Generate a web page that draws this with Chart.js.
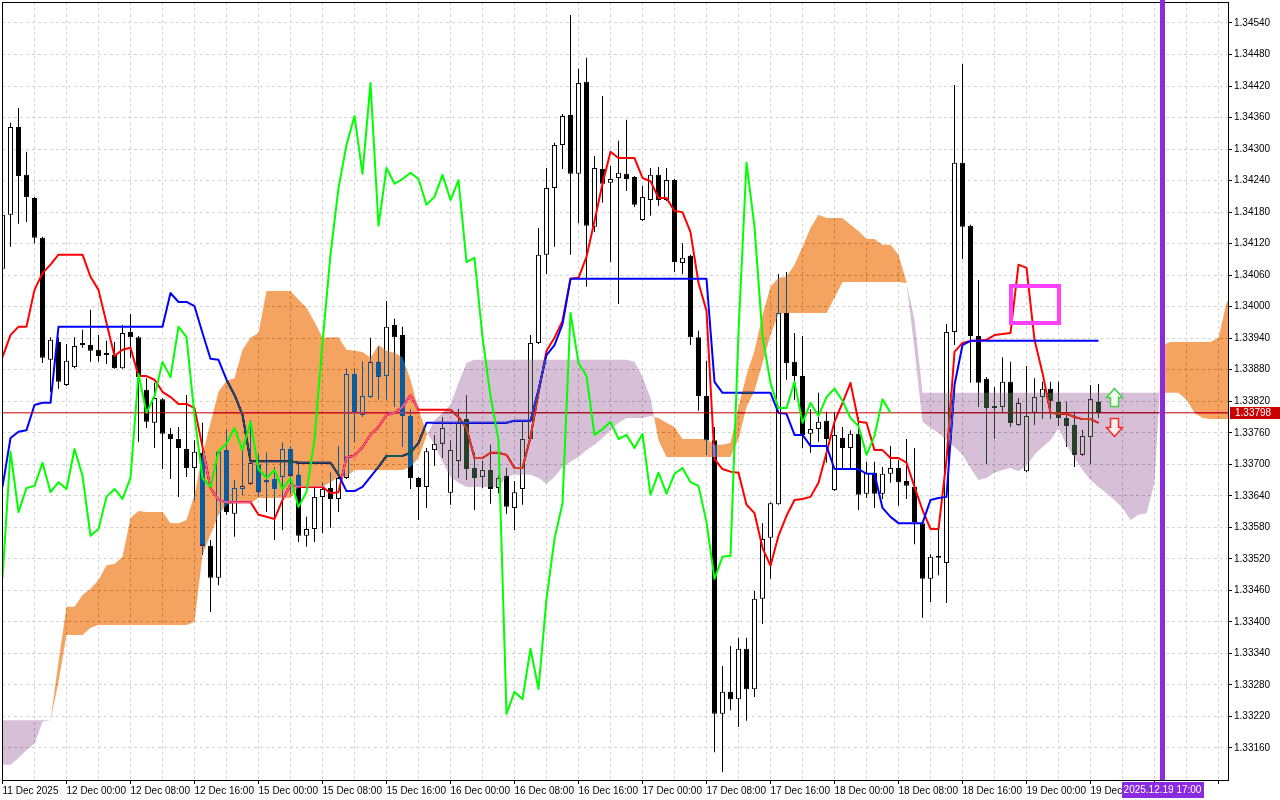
<!DOCTYPE html>
<html><head><meta charset="utf-8">
<script src="https://cdn.jsdelivr.net/npm/chart.js@4.4.1/dist/chart.umd.min.js"></script>
<style>html,body{margin:0;padding:0;background:#fff;overflow:hidden}canvas{display:block}</style>
</head><body>
<canvas id="c" width="1280" height="800"></canvas>
<script>
// ---- tick labels ----
const timeLabels = ['11 Dec 2025','12 Dec 00:00','12 Dec 08:00','12 Dec 16:00','15 Dec 00:00','15 Dec 08:00','15 Dec 16:00','16 Dec 00:00','16 Dec 08:00','16 Dec 16:00','17 Dec 00:00','17 Dec 08:00','17 Dec 16:00','18 Dec 00:00','18 Dec 08:00','18 Dec 16:00','19 Dec 00:00','19 Dec 08:00'];
const priceTicks = [1.34540,1.34480,1.34420,1.34360,1.34300,1.34240,1.34180,1.34120,1.34060,1.34000,1.33940,1.33880,1.33820,1.33760,1.33700,1.33640,1.33580,1.33520,1.33460,1.33400,1.33340,1.33280,1.33220,1.33160];

// ---- H1 candles (bar index 0 = 11 Dec 16:00) ----
const open = [1.34072,1.34175,1.34342,1.34251,1.34207,1.34131,1.33899,1.33933,1.33851,1.33885,
1.33927,1.33927,1.33918,1.33912,1.33908,1.33883,1.33952,1.33942,1.33842,1.33779,
1.33824,1.33758,1.33748,1.33729,1.33693,1.33722,1.33545,1.33484,1.33727,1.33606,
1.33653,1.33663,1.33699,1.33670,1.33672,1.33676,1.33729,1.33680,1.33564,1.33577,
1.33638,1.33655,1.33634,1.33674,1.33872,1.33794,1.33828,1.33895,1.33868,1.33965,
1.33946,1.33792,1.33674,1.33657,1.33727,1.33739,1.33646,1.33706,1.33786,1.33693,
1.33676,1.33689,1.33655,1.33678,1.33617,1.33653,1.33748,1.33931,1.34099,1.34226,
1.34308,1.34365,1.34253,1.34428,1.34152,1.34262,1.34236,1.34245,1.34253,1.34247,
1.34165,1.34203,1.34251,1.34203,1.34241,1.34083,1.34097,1.33942,1.33830,1.33746,
1.33225,1.33267,1.33253,1.33349,1.33272,1.33444,1.33560,1.33624,1.33988,1.33895,
1.33868,1.33758,1.33767,1.33783,1.33651,1.33750,1.33731,1.33758,1.33644,1.33684,
1.33644,1.33682,1.33693,1.33668,1.33657,1.33588,1.33482,1.33522,1.33512,1.33952,
1.34274,1.34154,1.33944,1.33863,1.33811,1.33809,1.33857,1.33775,1.33687,1.33798,
1.33828,1.33844,1.33819,1.33788,1.33775,1.33718,1.33752,1.33819];
const high = [1.34194,1.34350,1.34378,1.34295,1.34209,1.34133,1.33942,1.33942,1.33929,1.33942,
1.33956,1.33994,1.33946,1.33935,1.33933,1.33965,1.33986,1.33944,1.33864,1.33855,
1.33826,1.33769,1.33771,1.33832,1.33746,1.33779,1.33556,1.33727,1.33765,1.33670,
1.33727,1.33784,1.33718,1.33722,1.33695,1.33741,1.33735,1.33699,1.33600,1.33655,
1.33665,1.33684,1.33735,1.33882,1.33882,1.33895,1.33941,1.33923,1.34011,1.33977,
1.33962,1.33804,1.33676,1.33731,1.33756,1.33790,1.33745,1.33805,1.33832,1.33722,
1.33706,1.33737,1.33678,1.33693,1.33668,1.33781,1.33946,1.34150,1.34264,1.34312,
1.34367,1.34555,1.34453,1.34474,1.34287,1.34401,1.34268,1.34316,1.34356,1.34249,
1.34230,1.34264,1.34266,1.34264,1.34243,1.34121,1.34099,1.33954,1.33897,1.33771,
1.33316,1.33354,1.33370,1.33370,1.33459,1.33588,1.33628,1.34062,1.34066,1.33950,
1.33944,1.33805,1.33836,1.33800,1.33798,1.33771,1.33765,1.33790,1.33705,1.33705,
1.33695,1.33735,1.33708,1.33748,1.33731,1.33590,1.33529,1.33579,1.33967,1.34422,
1.34462,1.34156,1.34051,1.33866,1.33847,1.33904,1.33895,1.33826,1.33887,1.33864,
1.33857,1.33857,1.33857,1.33819,1.33800,1.33765,1.33851,1.33853];
const low = [1.34061,1.34114,1.34158,1.34161,1.34121,1.33893,1.33838,1.33844,1.33849,1.33883,
1.33922,1.33895,1.33895,1.33891,1.33882,1.33882,1.33903,1.33743,1.33769,1.33731,
1.33691,1.33672,1.33638,1.33676,1.33632,1.33528,1.33419,1.33470,1.33604,1.33562,
1.33642,1.33661,1.33638,1.33609,1.33556,1.33575,1.33645,1.33552,1.33543,1.33552,
1.33569,1.33579,1.33609,1.33672,1.33743,1.33790,1.33826,1.33824,1.33824,1.33809,
1.33733,1.33653,1.33594,1.33617,1.33697,1.33712,1.33623,1.33674,1.33670,1.33613,
1.33655,1.33625,1.33645,1.33606,1.33575,1.33623,1.33746,1.33929,1.34062,1.34114,
1.34262,1.34099,1.34159,1.34038,1.34142,1.34198,1.34085,1.34005,1.34220,1.34190,
1.34163,1.34173,1.34192,1.34201,1.34066,1.34062,1.33927,1.33802,1.33718,1.33152,
1.33114,1.33232,1.33200,1.33212,1.33257,1.33396,1.33482,1.33623,1.33861,1.33823,
1.33731,1.33722,1.33743,1.33703,1.33649,1.33691,1.33689,1.33613,1.33636,1.33617,
1.33634,1.33665,1.33621,1.33634,1.33548,1.33408,1.33438,1.33489,1.33436,1.33927,
1.34091,1.33855,1.33809,1.33701,1.33748,1.33798,1.33771,1.33773,1.33685,1.33775,
1.33786,1.33786,1.33773,1.33733,1.33695,1.33716,1.33701,1.33788];
const close = [1.34175,1.34342,1.34249,1.34209,1.34131,1.33903,1.33937,1.33857,1.33897,1.33925,
1.33931,1.33916,1.33906,1.33908,1.33883,1.33950,1.33942,1.33866,1.33781,1.33826,
1.33758,1.33748,1.33731,1.33693,1.33724,1.33545,1.33484,1.33724,1.33609,1.33655,
1.33659,1.33703,1.33647,1.33666,1.33653,1.33729,1.33678,1.33564,1.33577,1.33638,
1.33653,1.33634,1.33674,1.33872,1.33798,1.33830,1.33895,1.33866,1.33962,1.33942,
1.33792,1.33674,1.33657,1.33725,1.33739,1.33769,1.33727,1.33781,1.33691,1.33674,
1.33689,1.33653,1.33674,1.33619,1.33647,1.33748,1.33931,1.34099,1.34226,1.34308,
1.34363,1.34253,1.34426,1.34154,1.34264,1.34234,1.34243,1.34255,1.34243,1.34194,
1.34209,1.34251,1.34203,1.34241,1.34085,1.34093,1.33942,1.33830,1.33746,1.33225,
1.33267,1.33253,1.33349,1.33272,1.33444,1.33558,1.33626,1.33988,1.33893,1.33868,
1.33756,1.33767,1.33781,1.33748,1.33756,1.33731,1.33758,1.33642,1.33684,1.33644,
1.33682,1.33693,1.33666,1.33659,1.33590,1.33482,1.33524,1.33526,1.33952,1.34274,
1.34152,1.33944,1.33855,1.33807,1.33807,1.33857,1.33779,1.33817,1.33792,1.33828,
1.33844,1.33821,1.33788,1.33773,1.33718,1.33754,1.33824,1.33798];

// ---- Ichimoku lines ----
const tenkan = [1.33904,1.33946,1.33962,1.33962,1.34032,1.34064,1.34080,1.34099,1.34099,1.34099,
1.34099,1.34057,1.34032,1.33969,1.33906,1.33918,1.33922,1.33868,1.33868,1.33861,
1.33838,1.33828,1.33815,1.33815,1.33807,1.33733,1.33655,1.33632,1.33628,1.33628,
1.33628,1.33628,1.33604,1.33600,1.33596,1.33632,1.33661,1.33657,1.33657,1.33657,
1.33657,1.33645,1.33647,1.33714,1.33716,1.33733,1.33756,1.33771,1.33794,1.33798,
1.33809,1.33832,1.33804,1.33804,1.33804,1.33804,1.33804,1.33790,1.33769,1.33712,
1.33712,1.33722,1.33722,1.33718,1.33693,1.33693,1.33752,1.33836,1.33916,1.33941,
1.33973,1.34053,1.34055,1.34095,1.34163,1.34234,1.34295,1.34283,1.34283,1.34283,
1.34245,1.34239,1.34207,1.34207,1.34182,1.34180,1.34142,1.34045,1.33992,1.33710,
1.33691,1.33686,1.33684,1.33623,1.33607,1.33541,1.33507,1.33564,1.33602,1.33632,
1.33634,1.33638,1.33665,1.33722,1.33781,1.33817,1.33855,1.33781,1.33779,1.33727,
1.33727,1.33712,1.33712,1.33703,1.33657,1.33613,1.33577,1.33577,1.33708,1.33914,
1.33931,1.33935,1.33935,1.33937,1.33946,1.33948,1.33950,1.34080,1.34074,1.33937,
1.33874,1.33798,1.33796,1.33796,1.33790,1.33786,1.33786,1.33779];
const kijun = [1.33657,1.33750,1.33762,1.33765,1.33813,1.33817,1.33817,1.33962,1.33962,1.33962,
1.33962,1.33962,1.33962,1.33962,1.33962,1.33962,1.33962,1.33962,1.33962,1.33962,
1.33962,1.34026,1.34009,1.34009,1.34001,1.33950,1.33901,1.33899,1.33861,1.33832,
1.33794,1.33706,1.33706,1.33706,1.33706,1.33706,1.33706,1.33703,1.33703,1.33703,
1.33703,1.33703,1.33680,1.33649,1.33649,1.33657,1.33676,1.33695,1.33716,1.33716,
1.33716,1.33722,1.33741,1.33779,1.33779,1.33779,1.33779,1.33779,1.33779,1.33779,
1.33779,1.33779,1.33779,1.33779,1.33783,1.33783,1.33783,1.33842,1.33908,1.33927,
1.33967,1.34053,1.34053,1.34053,1.34053,1.34053,1.34053,1.34053,1.34053,1.34053,
1.34053,1.34053,1.34053,1.34053,1.34053,1.34053,1.34053,1.34053,1.34053,1.33857,
1.33836,1.33836,1.33836,1.33836,1.33836,1.33836,1.33836,1.33798,1.33796,1.33756,
1.33756,1.33735,1.33735,1.33735,1.33691,1.33691,1.33691,1.33691,1.33682,1.33682,
1.33617,1.33600,1.33588,1.33588,1.33588,1.33588,1.33632,1.33636,1.33638,1.33851,
1.33927,1.33935,1.33935,1.33935,1.33935,1.33935,1.33935,1.33935,1.33935,1.33935,
1.33935,1.33935,1.33935,1.33935,1.33935,1.33935,1.33935,1.33935];
const chikou = [1.33484,1.33724,1.33609,1.33655,1.33659,1.33703,1.33647,1.33666,1.33653,1.33729,
1.33678,1.33564,1.33577,1.33638,1.33653,1.33634,1.33674,1.33872,1.33798,1.33830,
1.33895,1.33866,1.33962,1.33942,1.33792,1.33674,1.33657,1.33725,1.33739,1.33769,
1.33727,1.33781,1.33691,1.33674,1.33689,1.33653,1.33674,1.33619,1.33647,1.33748,
1.33931,1.34099,1.34226,1.34308,1.34363,1.34253,1.34426,1.34154,1.34264,1.34234,
1.34243,1.34255,1.34243,1.34194,1.34209,1.34251,1.34203,1.34241,1.34085,1.34093,
1.33942,1.33830,1.33746,1.33225,1.33267,1.33253,1.33349,1.33272,1.33444,1.33558,
1.33626,1.33988,1.33893,1.33868,1.33756,1.33767,1.33781,1.33748,1.33756,1.33731,
1.33758,1.33642,1.33684,1.33644,1.33682,1.33693,1.33666,1.33659,1.33590,1.33482,
1.33524,1.33526,1.33952,1.34274,1.34152,1.33944,1.33855,1.33807,1.33807,1.33857,
1.33779,1.33817,1.33792,1.33828,1.33844,1.33821,1.33788,1.33773,1.33718,1.33754,
1.33824,1.33798];
const spanA = [1.33128,1.33128,1.33141,1.33156,1.33168,1.33210,1.33213,1.33324,1.33429,1.33429,
1.33451,1.33463,1.33480,1.33508,1.33510,1.33524,1.33598,1.33611,1.33609,1.33609,
1.33609,1.33588,1.33588,1.33594,1.33642,1.33718,1.33779,1.33838,1.33859,1.33864,
1.33918,1.33941,1.33950,1.34030,1.34030,1.34030,1.34030,1.34013,1.33998,1.33971,
1.33941,1.33942,1.33942,1.33918,1.33916,1.33914,1.33903,1.33927,1.33916,1.33912,
1.33904,1.33861,1.33804,1.33762,1.33737,1.33705,1.33676,1.33665,1.33657,1.33657,
1.33657,1.33657,1.33657,1.33676,1.33680,1.33680,1.33680,1.33674,1.33663,1.33676,
1.33695,1.33705,1.33714,1.33727,1.33737,1.33750,1.33765,1.33779,1.33788,1.33788,
1.33788,1.33792,1.33788,1.33779,1.33771,1.33748,1.33748,1.33748,1.33748,1.33737,
1.33737,1.33741,1.33809,1.33870,1.33916,1.33984,1.34038,1.34055,1.34057,1.34080,
1.34114,1.34150,1.34175,1.34169,1.34169,1.34169,1.34156,1.34144,1.34129,1.34129,
1.34118,1.34118,1.34099,1.34047,1.33918,1.33781,1.33769,1.33760,1.33746,1.33733,
1.33718,1.33693,1.33670,1.33674,1.33684,1.33689,1.33693,1.33687,1.33697,1.33718,
1.33733,1.33746,1.33769,1.33737,1.33712,1.33689,1.33670,1.33657,1.33645,1.33632,
1.33617,1.33594,1.33604,1.33607,1.33665,1.33927,1.33933,1.33933,1.33933,1.33933,
1.33933,1.33933,1.33941,1.34007,1.34030];
const spanB = [1.33213,1.33213,1.33213,1.33213,1.33213,1.33213,1.33213,1.33286,1.33375,1.33375,
1.33375,1.33389,1.33394,1.33394,1.33394,1.33394,1.33394,1.33394,1.33394,1.33394,
1.33394,1.33394,1.33394,1.33394,1.33400,1.33528,1.33566,1.33604,1.33623,1.33626,
1.33626,1.33626,1.33636,1.33636,1.33636,1.33636,1.33636,1.33657,1.33657,1.33657,
1.33657,1.33666,1.33676,1.33676,1.33689,1.33689,1.33689,1.33689,1.33689,1.33689,
1.33689,1.33695,1.33712,1.33754,1.33784,1.33798,1.33813,1.33855,1.33893,1.33899,
1.33899,1.33899,1.33899,1.33899,1.33899,1.33899,1.33899,1.33899,1.33899,1.33899,
1.33899,1.33899,1.33899,1.33899,1.33899,1.33899,1.33899,1.33899,1.33899,1.33895,
1.33866,1.33826,1.33746,1.33714,1.33714,1.33714,1.33714,1.33714,1.33714,1.33714,
1.33714,1.33714,1.33748,1.33809,1.33840,1.33893,1.33946,1.33986,1.33988,1.33988,
1.33988,1.33988,1.33988,1.33988,1.34017,1.34047,1.34047,1.34047,1.34047,1.34047,
1.34047,1.34047,1.34047,1.34045,1.33975,1.33836,1.33836,1.33836,1.33836,1.33836,
1.33836,1.33836,1.33836,1.33836,1.33836,1.33836,1.33836,1.33836,1.33836,1.33836,
1.33836,1.33836,1.33836,1.33836,1.33836,1.33836,1.33836,1.33836,1.33836,1.33836,
1.33836,1.33836,1.33836,1.33836,1.33836,1.33836,1.33836,1.33836,1.33823,1.33798,
1.33788,1.33786,1.33786,1.33786,1.33786];

// ---- chart objects ----
const lastPrice = 1.33798;
const cursorBar = 145, cursorLabel = '2025.12.19 17:00';
const boxObj = {x1: 126, x2: 132, top: 1.34039, bottom: 1.33969};
const arrows = [{bar: 139, price: 1.33845, dir: 'up'}, {bar: 139, price: 1.33754, dir: 'down'}];

// ---- setup ----
const FONT = "'Liberation Sans', Arial, sans-serif";
Chart.defaults.font.family = FONT;
Chart.defaults.font.size = 10;
Chart.defaults.color = '#000';

const idx = open.map((_, i) => i);
const xMin = -0.0625, xMax = 153.1875;
const yMin = 1.33099089, yMax = 1.34579972;
const IDX_A = 5, IDX_B = 6;

const lineDs = (data, color, width, order) => ({type: 'line', data, borderColor: color, borderWidth: width,
  pointRadius: 0, pointHoverRadius: 0, tension: 0, fill: false, order, borderJoinStyle: 'round'});

const datasets = [
  {type: 'bar', data: idx.map(i => ({x: i, y: [low[i], high[i]]})), backgroundColor: '#000', borderWidth: 0,
   barThickness: 1, grouped: false, inflateAmount: 0, order: 10},
  {type: 'bar', data: idx.map(i => ({x: i, y: [open[i], close[i]]})),
   backgroundColor: idx.map(i => close[i] > open[i] ? '#ffffff' : '#000000'), borderColor: '#000', borderWidth: 1,
   borderSkipped: false, barThickness: 5, grouped: false, inflateAmount: 0, minBarLength: 1, order: 9},
  lineDs(tenkan.map((v, i) => ({x: i, y: v})), '#FF0000', 2, 8),
  lineDs(kijun.map((v, i) => ({x: i, y: v})), '#0000FF', 2, 7),
  lineDs([{x: xMin, y: lastPrice}, {x: xMax, y: lastPrice}], '#C00000', 1, 6),
  {type: 'line', data: spanA.map((v, i) => ({x: i, y: v})), showLine: false, pointRadius: 0, order: 5},
  {type: 'line', data: spanB.map((v, i) => ({x: i, y: v})), showLine: false, pointRadius: 0, order: 4},
  lineDs(chikou.map((v, i) => ({x: i, y: v})), '#00FF00', 2, 3)
];

const bgPlugin = {
  id: 'bg',
  beforeDraw(chart) {
    const c = chart.ctx; c.save(); c.fillStyle = '#fff'; c.fillRect(0, 0, chart.width, chart.height); c.restore();
  }
};

const cloudPlugin = {
  id: 'cloud',
  afterDatasetDraw(chart, args) {
    if (args.index !== IDX_B) return;
    const a = chart.getDatasetMeta(IDX_A).data, b = chart.getDatasetMeta(IDX_B).data;
    const area = chart.chartArea, ctx = chart.ctx;
    const up = new Path2D(), dn = new Path2D();
    const poly = (p, pts) => { p.moveTo(pts[0][0], pts[0][1]); for (let j = 1; j < pts.length; j++) p.lineTo(pts[j][0], pts[j][1]); p.closePath(); };
    for (let i = 0; i < a.length - 1; i++) {
      const x0 = a[i].x, x1 = a[i + 1].x, ya0 = a[i].y, ya1 = a[i + 1].y, yb0 = b[i].y, yb1 = b[i + 1].y;
      const d0 = yb0 - ya0, d1 = yb1 - ya1;
      if (d0 >= 0 && d1 >= 0) poly(up, [[x0, ya0], [x1, ya1], [x1, yb1], [x0, yb0]]);
      else if (d0 <= 0 && d1 <= 0) poly(dn, [[x0, ya0], [x1, ya1], [x1, yb1], [x0, yb0]]);
      else {
        const t = d0 / (d0 - d1), xc = x0 + t * (x1 - x0), yc = ya0 + t * (ya1 - ya0);
        poly(d0 > 0 ? up : dn, [[x0, ya0], [xc, yc], [x0, yb0]]);
        poly(d1 > 0 ? up : dn, [[xc, yc], [x1, ya1], [x1, yb1]]);
      }
    }
    ctx.save();
    ctx.beginPath(); ctx.rect(area.left, area.top, area.right - area.left, area.bottom - area.top); ctx.clip();
    ctx.globalCompositeOperation = 'difference';
    ctx.fillStyle = 'rgb(11,91,159)'; ctx.fill(up);   // shows as SandyBrown on white
    ctx.fillStyle = 'rgb(39,64,39)'; ctx.fill(dn);    // shows as Thistle on white
    ctx.restore();
  }
};

const overlayPlugin = {
  id: 'overlay',
  afterDraw(chart) {
    const {ctx, chartArea: a} = chart;
    const xs = chart.scales.x, ys = chart.scales.y;
    ctx.save();
    ctx.strokeStyle = '#000'; ctx.lineWidth = 1;
    ctx.strokeRect(a.left + 0.5, a.top + 0.5, a.right - a.left, a.bottom - a.top);
    ctx.save();
    ctx.beginPath(); ctx.rect(a.left, a.top, a.right - a.left, a.bottom - a.top); ctx.clip();
    const rx1 = xs.getPixelForValue(boxObj.x1), rx2 = xs.getPixelForValue(boxObj.x2);
    const ry1 = ys.getPixelForValue(boxObj.top), ry2 = ys.getPixelForValue(boxObj.bottom);
    ctx.lineWidth = 4; ctx.strokeStyle = '#FF40FF';
    ctx.strokeRect(Math.round(rx1), Math.round(ry1), Math.round(rx2 - rx1), Math.round(ry2 - ry1));
    arrows.forEach(ar => {
      const cx = Math.round(xs.getPixelForValue(ar.bar)) - 0.5, ty = Math.round(ys.getPixelForValue(ar.price)) + 0.5;
      const s = ar.dir === 'up' ? 1 : -1;
      ctx.beginPath();
      ctx.moveTo(cx, ty);
      ctx.lineTo(cx + 8, ty + s * 9); ctx.lineTo(cx + 4, ty + s * 9); ctx.lineTo(cx + 4, ty + s * 18);
      ctx.lineTo(cx - 4, ty + s * 18); ctx.lineTo(cx - 4, ty + s * 9); ctx.lineTo(cx - 8, ty + s * 9);
      ctx.closePath();
      ctx.fillStyle = ar.dir === 'up' ? '#F2FFF2' : '#FFF2F2'; ctx.fill();
      ctx.lineWidth = 1.5; ctx.strokeStyle = ar.dir === 'up' ? '#44D044' : '#FF2828'; ctx.stroke();
    });
    ctx.restore();
    const cx = xs.getPixelForValue(cursorBar);
    ctx.fillStyle = '#8A2BE2';
    ctx.fillRect(cx - 2.5, 0, 5, a.bottom);
    ctx.font = '10px ' + FONT;
    const tw = ctx.measureText(cursorLabel).width + 4;
    ctx.fillRect(Math.round(cx - tw / 2), a.bottom + 2, Math.round(tw), 16);
    ctx.fillStyle = '#fff'; ctx.textAlign = 'center'; ctx.textBaseline = 'middle';
    ctx.fillText(cursorLabel, cx, a.bottom + 10.5);
    const py = ys.getPixelForValue(lastPrice);
    ctx.fillStyle = '#C80000';
    ctx.fillRect(a.right + 2, Math.round(py) - 6, 52, 12);
    ctx.fillStyle = '#fff'; ctx.textAlign = 'left';
    ctx.fillText(lastPrice.toFixed(5), a.right + 7, Math.round(py) + 0.5);
    ctx.restore();
  }
};

new Chart(document.getElementById('c'), {
  data: {datasets},
  options: {
    responsive: false, animation: false, devicePixelRatio: 1, events: [],
    layout: {padding: {left: 2, top: 2, right: 0, bottom: 0}, autoPadding: false},
    plugins: {legend: {display: false}, tooltip: {enabled: false}},
    scales: {
      x: {
        type: 'linear', position: 'bottom', min: xMin, max: xMax, bounds: 'data', offset: false,
        afterBuildTicks: s => { const t = []; for (let v = 0; v <= 152; v += 4) t.push({value: v}); s.ticks = t; },
        afterFit: s => { s.height = 20; s.paddingLeft = 0; s.paddingRight = 0; s.paddingTop = 0; s.paddingBottom = 0; },
        ticks: {autoSkip: false, maxRotation: 0, minRotation: 0, align: 'start', padding: 1, color: '#000',
          font: {size: 10, family: FONT},
          callback: v => (v % 8 === 0 && timeLabels[v / 8] !== undefined) ? timeLabels[v / 8] : ''},
        grid: {offset: false, color: '#D4D4D4', lineWidth: 1, tickLength: 4, tickBorderDash: [],
          tickColor: c => (c.tick && c.tick.value % 8 === 0) ? '#000' : 'rgba(0,0,0,0)'},
        border: {display: true, color: '#000', width: 1, dash: [3, 3]}
      },
      y: {
        type: 'linear', position: 'right', min: yMin, max: yMax, bounds: 'data',
        afterBuildTicks: s => { s.ticks = priceTicks.map(v => ({value: v})); },
        afterFit: s => { s.width = 52; s.paddingLeft = 0; s.paddingRight = 0; s.paddingTop = 0; s.paddingBottom = 0; },
        ticks: {autoSkip: false, padding: 2, color: '#000', font: {size: 10, family: FONT}, callback: v => Number(v).toFixed(5)},
        grid: {color: '#D4D4D4', lineWidth: 1, tickLength: 4, tickColor: '#000', tickBorderDash: []},
        border: {display: true, color: '#000', width: 1, dash: [3, 3]}
      }
    }
  },
  plugins: [bgPlugin, cloudPlugin, overlayPlugin]
});
</script>
</body></html>
